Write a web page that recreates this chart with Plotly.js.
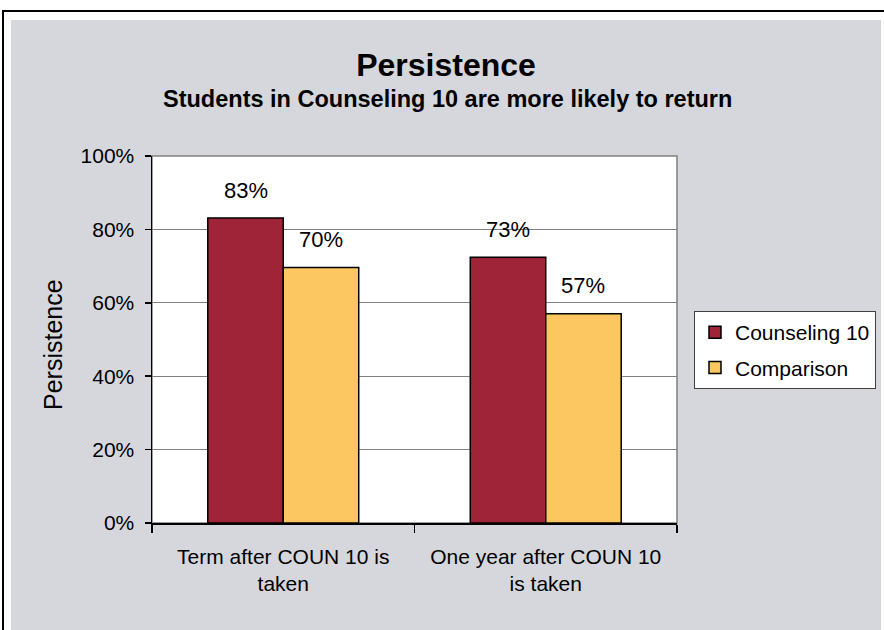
<!DOCTYPE html>
<html>
<head>
<meta charset="utf-8">
<script src="https://cdn.plot.ly/plotly-3.0.1.min.js"></script>
<style>
  html, body { margin: 0; padding: 0; width: 884px; height: 630px; overflow: hidden; background: #ffffff; }
  #frame { position: absolute; left: 2px; top: 10px; width: 920px; height: 700px; border: 2px solid #000; }
  #chart { position: absolute; left: 11px; top: 20px; width: 870px; height: 610px; }
</style>
</head>
<body>
<div id="frame"></div>
<div id="chart"></div>
<script>
// ---- data ----
const categories = ["Term after COUN 10 is<br>taken", "One year after COUN 10<br>is taken"];
const seriesNames = ["Counseling 10", "Comparison"];
const counseling10 = [83.1, 72.4];
const comparison = [69.6, 57.0];
const counseling10Labels = ["83%", "73%"];
const comparisonLabels = ["70%", "57%"];
const yTickVals = [0, 20, 40, 60, 80, 100];
const yTickText = ["0%", "20%", "40%", "60%", "80%", "100%"];

// ---- style ----
const FONT = "Liberation Sans, Arial, sans-serif";
const colors = ["#A02437", "#FCC661"];
const bargap = 0.425;
const PLOT_W = 525, PLOT_H = 367;

const traces = [
  { type: "bar", name: seriesNames[0], x: categories, y: counseling10, legendgroup: "a",
    marker: { color: colors[0], line: { color: "#000", width: 1.5 } }, hoverinfo: "skip" },
  { type: "bar", name: seriesNames[1], x: categories, y: comparison, legendgroup: "b",
    marker: { color: colors[1], line: { color: "#000", width: 1.5 } }, hoverinfo: "skip" }
];

const half = (1 - bargap) / 4; // offset of bar centers from category center
const annotations = [];
[[counseling10, counseling10Labels, -half], [comparison, comparisonLabels, half]].forEach(([vals, labs, off]) => {
  vals.forEach((v, i) => {
    annotations.push({ x: i + off, y: v, xref: "x", yref: "y", text: labs[i], showarrow: false,
      yanchor: "middle", yshift: 28, font: { family: FONT, size: 22, color: "#000" } });
  });
});
// subtitle
annotations.push({ text: "<b>Students in Counseling 10 are more likely to return</b>", xref: "paper",
  x: (436 - 141) / PLOT_W, yref: "paper", y: 1 + (136 - 79) / PLOT_H, xanchor: "center", yanchor: "middle",
  showarrow: false, font: { family: FONT, size: 23.5, color: "#000" } });
// y-axis title
annotations.push({ text: "Persistence", xref: "paper", x: -(152 - 53) / PLOT_W, yref: "paper", y: 1 - (345 - 156) / PLOT_H,
  xanchor: "center", yanchor: "middle", textangle: -90, showarrow: false,
  font: { family: FONT, size: 25, color: "#000" } });

const layout = {
  width: 870, height: 610,
  margin: { l: 141, r: 204, t: 136, b: 107, autoexpand: false },
  paper_bgcolor: "#D6D7DC", plot_bgcolor: "#ffffff",
  font: { family: FONT, size: 21, color: "#000" },
  title: { text: "<b>Persistence</b>", font: { family: FONT, size: 32, color: "#000" },
    xref: "container", x: 0.5, xanchor: "center", yref: "container", y: 1 - 45 / 610, yanchor: "middle" },
  barmode: "group", bargap: bargap, bargroupgap: 0,
  xaxis: { showline: true, linecolor: "#000", linewidth: 1.5, ticks: "outside", tickson: "boundaries",
    ticklen: 8, tickcolor: "#000", tickwidth: 1.5, ticklabelstandoff: 14, showgrid: false,
    tickfont: { family: FONT, size: 21 }, automargin: false, fixedrange: true },
  yaxis: { range: [0, 100], tickvals: yTickVals, ticktext: yTickText, showline: true, linecolor: "#000", linewidth: 1.5,
    ticks: "outside", ticklen: 6, tickcolor: "#000", tickwidth: 1.5, ticklabelstandoff: 6,
    showgrid: true, gridcolor: "#808080", gridwidth: 1, zeroline: false,
    tickfont: { family: FONT, size: 21 }, automargin: false, fixedrange: true },
  legend: { x: (694 - 11 - 141) / PLOT_W, xanchor: "left", y: 1 - (311 - 156) / PLOT_H, yanchor: "top", bgcolor: "#ffffff",
    bordercolor: "#404040", borderwidth: 1, font: { family: FONT, size: 21 }, traceorder: "grouped", tracegroupgap: 5 },
  shapes: [{ type: "rect", xref: "paper", yref: "paper", x0: 0, x1: 1, y0: 0, y1: 1,
    line: { color: "#808080", width: 1.5 }, fillcolor: "rgba(0,0,0,0)", layer: "below" }],
  annotations: annotations
};

Plotly.newPlot("chart", traces, layout, { displayModeBar: false, staticPlot: true });
</script>
</body>
</html>
